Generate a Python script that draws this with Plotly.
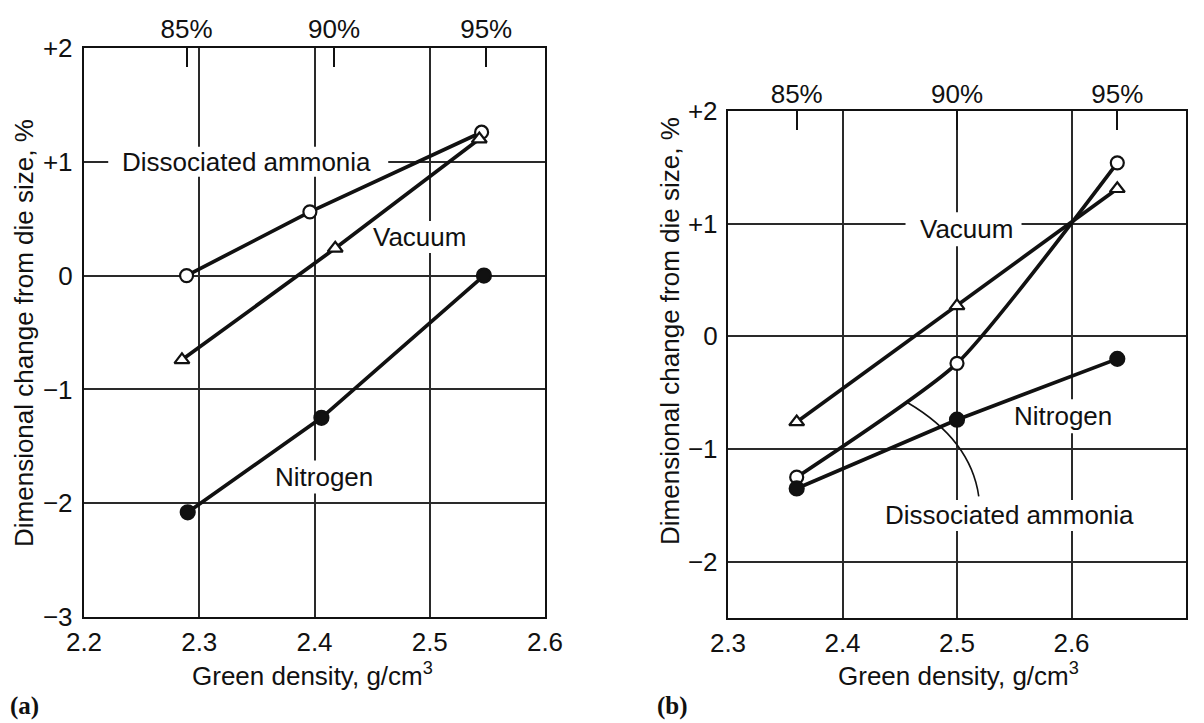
import plotly.graph_objects as go

# ---------------- data: panel (a) ----------------
a_ammonia_x = [2.289, 2.396, 2.545]
a_ammonia_y = [0.0, 0.56, 1.26]
a_vacuum_x = [2.285, 2.418, 2.543]
a_vacuum_y = [-0.74, 0.24, 1.20]
a_nitrogen_x = [2.290, 2.406, 2.547]
a_nitrogen_y = [-2.08, -1.25, 0.0]
a_pct_x = [2.289, 2.417, 2.549]
a_xticks = [2.2, 2.3, 2.4, 2.5, 2.6]
a_xticklabels = ["2.2", "2.3", "2.4", "2.5", "2.6"]
a_yticks = [-3, -2, -1, 0, 1, 2]
a_yticklabels = ["\u22123", "\u22122", "\u22121", "0", "+1", "+2"]

# ---------------- data: panel (b) ----------------
b_ammonia_x = [2.36, 2.50, 2.64]
b_ammonia_y = [-1.25, -0.24, 1.54]
b_vacuum_x = [2.36, 2.50, 2.64]
b_vacuum_y = [-0.76, 0.27, 1.31]
b_nitrogen_x = [2.36, 2.50, 2.64]
b_nitrogen_y = [-1.35, -0.74, -0.20]
b_pct_x = [2.36, 2.50, 2.64]
b_xticks = [2.3, 2.4, 2.5, 2.6, 2.7]
b_xticklabels = ["2.3", "2.4", "2.5", "2.6", "2.7"]
b_yticks = [-2, -1, 0, 1, 2]
b_yticklabels = ["\u22122", "\u22121", "0", "+1", "+2"]

pct_labels = ["85%", "90%", "95%"]

FONT = "Liberation Sans, Arial, sans-serif"
INK = "#111111"
GRID = "#2a2a2a"
FS = 26
LW = 3.7

# the page body adds an 8 px margin; the figure is sized to fill the rest
OFF = 8
W, H = 1204 - OFF, 723 - OFF


def fx(px):
    return (px - OFF) / W


def fy(py):
    return 1 - (py - OFF) / H


fig = go.Figure()


def add_series(x, y, xa, ya, symbol, fill, shape="linear"):
    fig.add_trace(go.Scatter(
        x=x, y=y, xaxis=xa, yaxis=ya, mode="lines+markers",
        line=dict(color=INK, width=LW, shape=shape, smoothing=0.55),
        marker=dict(symbol=symbol, size=13 if fill == "white" else 14,
                    color=fill, line=dict(color=INK, width=2.2)),
        showlegend=False, cliponaxis=False,
    ))


# panel (a)
add_series(a_ammonia_x, a_ammonia_y, "x", "y", "circle", "white")
add_series(a_vacuum_x, a_vacuum_y, "x", "y", "triangle-up", "white")
add_series(a_nitrogen_x, a_nitrogen_y, "x", "y", "circle", INK)
# panel (b)
add_series(b_ammonia_x, b_ammonia_y, "x2", "y2", "circle", "white", shape="spline")
add_series(b_vacuum_x, b_vacuum_y, "x2", "y2", "triangle-up", "white")
add_series(b_nitrogen_x, b_nitrogen_y, "x2", "y2", "circle", INK)

# invisible traces to carry the top (percent) axes
fig.add_trace(go.Scatter(x=a_pct_x, y=[None] * 3, xaxis="x3", yaxis="y",
                         mode="markers", showlegend=False, hoverinfo="skip"))
fig.add_trace(go.Scatter(x=b_pct_x, y=[None] * 3, xaxis="x4", yaxis="y2",
                         mode="markers", showlegend=False, hoverinfo="skip"))

ax_dom = [fx(84), fx(545)]
ay_dom = [fy(617), fy(48)]
bx_dom = [fx(728), fx(1186)]
by_dom = [fy(618), fy(111)]

tickfont = dict(family=FONT, size=FS, color=INK)

common = dict(showline=True, mirror=True, linecolor=INK, linewidth=2.4,
              showgrid=True, gridcolor=GRID, gridwidth=1.8,
              zeroline=False, ticks="", ticklen=0, tickfont=tickfont,
              automargin=False, fixedrange=True)

fig.update_layout(
    width=W, height=H,
    margin=dict(l=0, r=0, t=0, b=0),
    paper_bgcolor="white", plot_bgcolor="white",
    font=dict(family=FONT, size=FS, color=INK),
    xaxis=dict(domain=ax_dom, anchor="y", range=[2.2, 2.6],
               tickvals=a_xticks, ticktext=a_xticklabels,
               ticklabelstandoff=1, **common),
    yaxis=dict(domain=ay_dom, anchor="x", range=[-3, 2],
               tickvals=a_yticks, ticktext=a_yticklabels,
               ticklabelstandoff=4, **common),
    xaxis2=dict(domain=bx_dom, anchor="y2", range=[2.3, 2.7],
                tickvals=b_xticks, ticktext=b_xticklabels,
                ticklabelstandoff=1, **common),
    yaxis2=dict(domain=by_dom, anchor="x2", range=[-2.5, 2],
                tickvals=b_yticks, ticktext=b_yticklabels,
                ticklabelstandoff=3, **common),
    xaxis3=dict(overlaying="x", side="top", anchor="y", range=[2.2, 2.6],
                domain=ax_dom, tickvals=a_pct_x, ticktext=pct_labels,
                ticks="inside", ticklen=19, tickwidth=2, tickcolor=INK,
                showgrid=False, showline=False, zeroline=False,
                tickfont=tickfont, ticklabelstandoff=4, automargin=False,
                fixedrange=True),
    xaxis4=dict(overlaying="x2", side="top", anchor="y2", range=[2.3, 2.7],
                domain=bx_dom, tickvals=b_pct_x, ticktext=pct_labels,
                ticks="inside", ticklen=19, tickwidth=2, tickcolor=INK,
                showgrid=False, showline=False, zeroline=False,
                tickfont=tickfont, ticklabelstandoff=2, automargin=False,
                fixedrange=True),
)

ytitle = "Dimensional change from die size, %"
xtitle = "Green density, g/cm<sup>3</sup>"
tfont = dict(family=FONT, size=FS, color=INK)
serif = dict(family="Liberation Serif, Times New Roman, serif", size=25, color=INK)

shapes = []
annotations = []


def label(text, x, y, xr, yr, mw, mh, mx=None):
    """Curve label; a white patch behind it hides the grid (not the data)."""
    annotations.append(dict(text=text, x=x, y=y, xref=xr, yref=yr,
                            showarrow=False, font=tfont))
    shapes.append(dict(type="rect", xref=xr, yref=yr,
                       xsizemode="pixel", ysizemode="pixel",
                       xanchor=x if mx is None else mx, yanchor=y,
                       x0=-mw / 2, x1=mw / 2, y0=-mh / 2, y1=mh / 2,
                       fillcolor="white", line=dict(width=0),
                       layer="between"))


label("Dissociated ammonia", 2.341, 1.0, "x", "y", 280, 30, mx=2.3425)
label("Vacuum", 2.491, 0.34, "x", "y", 112, 32)
label("Nitrogen", 2.408, -1.77, "x", "y", 112, 33)
label("Vacuum", 2.508, 0.95, "x2", "y2", 116, 34, mx=2.5057)
label("Nitrogen", 2.593, -0.71, "x2", "y2", 112, 34)
label("Dissociated ammonia", 2.546, -1.59, "x2", "y2", 276, 31)

annotations += [
    # axis titles
    dict(text=xtitle, x=fx(312), y=fy(674), xref="paper", yref="paper",
         xanchor="center", yanchor="middle", showarrow=False, font=tfont),
    dict(text=xtitle, x=fx(958), y=fy(674), xref="paper", yref="paper",
         xanchor="center", yanchor="middle", showarrow=False, font=tfont),
    dict(text=ytitle, x=fx(24), y=fy(333), xref="paper", yref="paper",
         xanchor="center", yanchor="middle", textangle=-90, showarrow=False,
         font=tfont),
    dict(text=ytitle, x=fx(670), y=fy(331), xref="paper", yref="paper",
         xanchor="center", yanchor="middle", textangle=-90, showarrow=False,
         font=tfont),
    # panel letters
    dict(text="<b>(a)</b>", x=fx(8), y=fy(706), xref="paper", yref="paper",
         xanchor="left", yanchor="middle", showarrow=False, font=serif),
    dict(text="<b>(b)</b>", x=fx(655), y=fy(706), xref="paper", yref="paper",
         xanchor="left", yanchor="middle", showarrow=False, font=serif),
]

# leader curve from "Dissociated ammonia" label to its curve in (b)
shapes.append(dict(type="path", xref="x2", yref="y2",
                   path="M 2.457,-0.59 Q 2.512,-0.92 2.519,-1.42",
                   line=dict(color=INK, width=1.6), layer="above"))

fig.update_layout(annotations=annotations, shapes=shapes)

fig.write_html("out.html")
